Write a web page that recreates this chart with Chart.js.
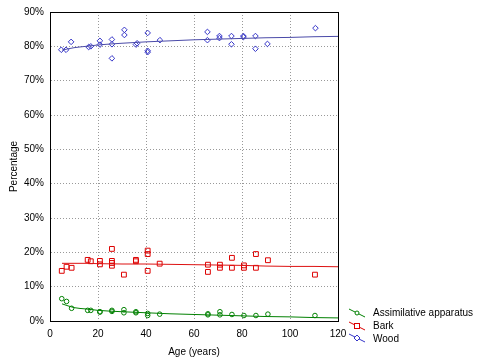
<!DOCTYPE html>
<html>
<head>
<meta charset="utf-8">
<script src="https://cdn.jsdelivr.net/npm/chart.js@4"></script>
<style>
  html, body { margin:0; padding:0; background:#fff; }
  #wrap { position:relative; width:484px; height:363px; }
  #legend { position:absolute; left:346px; top:306.5px; font-family:"Liberation Sans", Arial, sans-serif; font-size:10px; color:#000; }
  .item { display:flex; align-items:center; height:12.7px; }
  .item svg { width:22px; height:12px; margin-right:5px; }
</style>
</head>
<body>
<div id="wrap">
<canvas id="c" width="484" height="363"></canvas>
<div id="legend"></div>
</div>
<script>
// ---- data ----
const xTicks = [0, 20, 40, 60, 80, 100, 120];
const yTicks = [0, 10, 20, 30, 40, 50, 60, 70, 80, 90];

const woodAge = [4.7, 6.7, 8.8, 16.1, 17.0, 20.8, 20.8, 25.8, 25.8, 25.8, 31.0, 31.0, 35.8, 36.3, 40.7, 40.7, 40.7, 45.8,
                 65.6, 65.6, 70.6, 70.6, 75.6, 75.6, 80.6, 80.6, 85.6, 85.6, 90.6, 110.6];
const woodPct = [79.0, 79.0, 81.3, 79.8, 80.0, 81.6, 80.5, 82.0, 80.6, 76.5, 84.8, 83.3, 80.5, 80.9, 83.9, 78.7, 78.3, 81.8,
                 84.2, 81.8, 83.0, 82.4, 83.0, 80.6, 83.0, 82.7, 83.0, 79.3, 80.7, 85.3];

const barkAge = [4.9, 6.9, 9.0, 15.7, 17.0, 20.8, 20.8, 25.8, 25.8, 25.8, 25.8, 30.8, 35.8, 35.8, 40.7, 40.7, 40.7, 45.7,
                 65.8, 65.8, 70.8, 70.8, 75.8, 75.8, 80.8, 80.8, 85.8, 85.8, 90.8, 110.4];
const barkPct = [14.6, 15.8, 15.5, 17.8, 17.4, 17.5, 16.5, 21.0, 17.5, 16.9, 16.1, 13.5, 17.8, 17.4, 20.5, 19.5, 14.6, 16.7,
                 16.4, 14.3, 16.4, 15.5, 18.4, 15.5, 16.2, 15.5, 19.5, 15.5, 17.7, 13.5];

const assimAge = [4.9, 6.9, 9.0, 15.7, 17.0, 20.8, 20.8, 25.8, 25.8, 30.8, 30.8, 35.8, 35.8, 40.7, 40.7, 45.7,
                  65.8, 65.8, 70.8, 70.8, 75.8, 80.8, 85.8, 90.8, 110.4];
const assimPct = [6.5, 5.7, 3.7, 3.1, 3.1, 2.7, 2.6, 3.1, 2.8, 3.3, 2.4, 2.7, 2.4, 2.2, 1.6, 2.0,
                  2.1, 1.8, 2.7, 1.8, 1.9, 1.6, 1.6, 2.0, 1.6];

const fitAge      = [5, 10, 15, 20, 30, 40, 50, 60, 70, 80, 90, 100, 110, 120];
const woodFitPct  = [78.9, 79.6, 80.0, 80.4, 80.9, 81.3, 81.6, 81.9, 82.1, 82.3, 82.5, 82.6, 82.8, 82.9];
const barkFitPct  = [16.8, 16.8, 16.8, 16.7, 16.6, 16.6, 16.5, 16.4, 16.3, 16.2, 16.0, 15.9, 15.9, 15.8];
const assimFitPct = [5.0, 3.9, 3.5, 3.1, 2.7, 2.4, 2.1, 1.9, 1.7, 1.5, 1.3, 1.2, 1.0, 0.9];

const seriesNames = ['Assimilative apparatus', 'Bark', 'Wood'];
// ---------------------------------------

const GREEN = '#008000', RED = '#dd0000', BLUE = '#3535c8';
const GREEN_L = '#008000', RED_L = '#dd1111', BLUE_L = '#4a4aa8';

const pts = (xs, ys) => xs.map((x, i) => ({x, y: ys[i]}));
const FONT = {family: '"Liberation Sans", Arial, sans-serif', size: 10};

const frame = {
  id: 'frame',
  afterDatasetsDraw(chart) {
    const a = chart.chartArea, ctx = chart.ctx;
    ctx.save();
    ctx.setLineDash([]);
    ctx.strokeStyle = '#000';
    ctx.lineWidth = 1;
    ctx.strokeRect(Math.round(a.left) + 0.5, Math.round(a.top) + 0.5, Math.round(a.right - a.left), Math.round(a.bottom - a.top));
    ctx.restore();
  }
};

new Chart(document.getElementById('c'), {
  type: 'scatter',
  data: {
    datasets: [
      {label: seriesNames[0] + ' fit', type: 'line', data: pts(fitAge, assimFitPct), borderColor: GREEN_L, borderWidth: 1, pointRadius: 0, cubicInterpolationMode: 'monotone', fill: false},
      {label: seriesNames[1] + ' fit', type: 'line', data: pts(fitAge, barkFitPct), borderColor: RED_L, borderWidth: 1, pointRadius: 0, cubicInterpolationMode: 'monotone', fill: false},
      {label: seriesNames[2] + ' fit', type: 'line', data: pts(fitAge, woodFitPct), borderColor: BLUE_L, borderWidth: 1, pointRadius: 0, cubicInterpolationMode: 'monotone', fill: false},
      {label: seriesNames[0], data: pts(assimAge, assimPct), pointStyle: 'circle', pointRadius: 2.3, borderColor: GREEN, backgroundColor: 'rgba(0,0,0,0)', pointBorderWidth: 1},
      {label: seriesNames[1], data: pts(barkAge, barkPct), pointStyle: 'rect', pointRadius: 3.4, borderColor: RED, backgroundColor: 'rgba(0,0,0,0)', pointBorderWidth: 1},
      {label: seriesNames[2], data: pts(woodAge, woodPct), pointStyle: 'rectRot', pointRadius: 2.8, borderColor: BLUE, backgroundColor: 'rgba(0,0,0,0)', pointBorderWidth: 1}
    ]
  },
  options: {
    responsive: false,
    animation: false,
    devicePixelRatio: 1,
    layout: {padding: {left: 0, top: 9, right: 146, bottom: 0}},
    plugins: {legend: {display: false}, tooltip: {enabled: false}},
    scales: {
      x: {
        type: 'linear', min: 0, max: 120,
        afterFit: s => { s.height = 42; },
        afterBuildTicks: s => { s.ticks = xTicks.map(v => ({value: v})); },
        ticks: {font: FONT, color: '#000', padding: 7},
        grid: {color: '#999999', drawTicks: false},
        border: {display: true, color: '#000', dash: [1, 2]},
        title: {display: true, text: 'Age (years)', font: FONT, color: '#000', padding: {top: 0, bottom: 5}}
      },
      y: {
        type: 'linear', min: 0, max: 90,
        afterFit: s => { s.width = 50; },
        afterBuildTicks: s => { s.ticks = yTicks.map(v => ({value: v})); },
        ticks: {font: FONT, color: '#000', padding: 6, callback: v => v + '%'},
        grid: {color: '#999999', drawTicks: false},
        border: {display: true, color: '#000', dash: [1, 2]},
        title: {display: true, text: 'Percentage', font: FONT, color: '#000', padding: {top: 8, bottom: 0}}
      }
    }
  },
  plugins: [frame]
});

// HTML legend
const legendEl = document.getElementById('legend');
const legendDefs = [
  {name: seriesNames[0], color: GREEN, marker: '<circle cx="11" cy="6" r="2" fill="#fff" stroke="' + GREEN + '" stroke-width="1"/>'},
  {name: seriesNames[1], color: RED, marker: '<rect x="8.5" y="3.5" width="5" height="5" fill="#fff" stroke="' + RED + '" stroke-width="1"/>'},
  {name: seriesNames[2], color: BLUE, marker: '<polygon points="11,3 14,6 11,9 8,6" fill="#fff" stroke="' + BLUE + '" stroke-width="1"/>'}
];
legendDefs.forEach(d => {
  const div = document.createElement('div');
  div.className = 'item';
  div.innerHTML = '<svg viewBox="0 0 22 12"><line x1="3" y1="2" x2="19" y2="10" stroke="' + d.color + '" stroke-width="1"/>' + d.marker + '</svg><span>' + d.name + '</span>';
  legendEl.appendChild(div);
});
</script>
</body>
</html>
